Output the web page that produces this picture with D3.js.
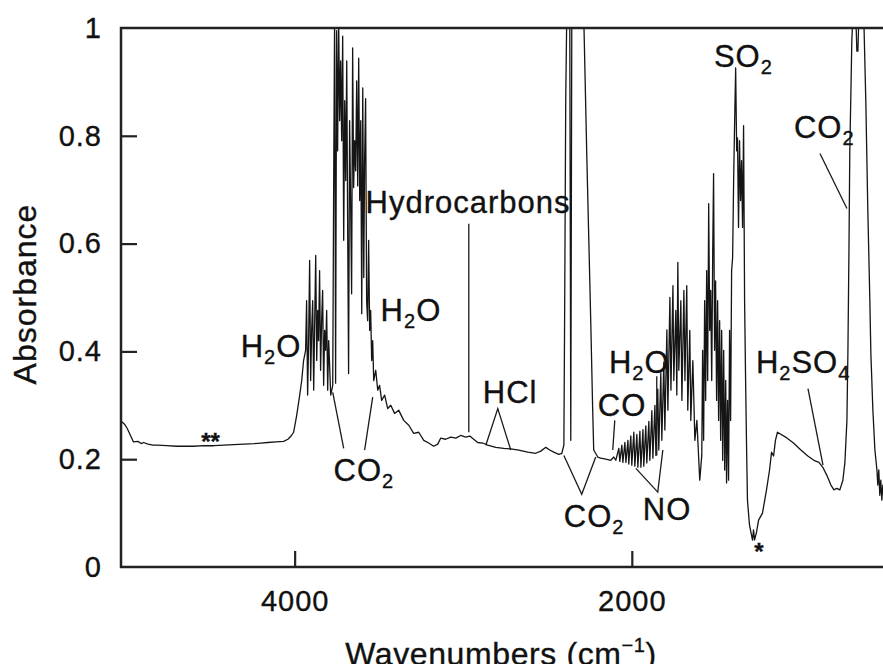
<!DOCTYPE html>
<html>
<head>
<meta charset="utf-8">
<script src="https://cdn.jsdelivr.net/npm/d3@7"></script>
<style>
  body { margin: 0; background: #fff; }
  text { font-family: "Liberation Sans", Arial, Helvetica, sans-serif; fill: #111; stroke: #111; stroke-width: 0.35px; }
</style>
</head>
<body>
<svg id="chart" width="883" height="664"></svg>
<script>
// spectrum (wavenumber in cm-1, absorbance)
var wavenumber = [
  5027, 5009, 4993, 4975, 4956, 4930, 4910, 4896, 4870, 4840, 4813, 4760, 4700, 4659, 4600, 4540,
  4480, 4420, 4362, 4300, 4240, 4200, 4160, 4110, 4065, 4040, 4024, 4006,
  3988, 3970, 3958, 3947, 3935, 3929, 3923, 3917, 3911, 3905, 3899, 3893, 3887, 3881, 3875, 3869,
  3863, 3858, 3852, 3846, 3840, 3834, 3828, 3822, 3816, 3810, 3804, 3798, 3786, 3774, 3769, 3763,
  3757, 3751, 3745, 3739, 3733, 3727, 3721, 3715, 3709, 3703, 3697, 3691, 3685, 3680, 3674, 3668,
  3662, 3656, 3650, 3644, 3638, 3632, 3626, 3620, 3614, 3608, 3602, 3596, 3590, 3585, 3579, 3573,
  3567, 3561, 3555, 3549, 3543, 3537, 3531, 3519, 3507, 3496, 3484, 3466, 3448, 3430, 3407, 3383,
  3353, 3323, 3294, 3264, 3234, 3205, 3175, 3151, 3134, 3104, 3074, 3044, 3015, 2985, 2961, 2938,
  2914, 2884, 2855, 2807, 2760, 2718, 2671, 2617, 2570, 2540, 2510, 2487, 2463, 2433, 2415,
  2403, 2398, 2392, 2386, 2368, 2362, 2356, 2285, 2267, 2255, 2243, 2232, 2226, 2202,
  2184, 2154, 2125, 2107, 2095, 2077, 2071, 2059, 2053, 2041, 2035, 2023, 2018, 2006, 2000, 1988,
  1982, 1970, 1964, 1952, 1946, 1934, 1929, 1917, 1911, 1899, 1893, 1881, 1875, 1863, 1857, 1846,
  1840, 1828, 1822, 1810, 1804, 1792, 1786, 1774, 1768, 1756, 1751, 1739, 1733, 1727, 1721, 1709,
  1703, 1691, 1685, 1674, 1668, 1656, 1650, 1638, 1626, 1614, 1597,
  1585, 1580, 1574, 1568, 1562, 1556, 1550, 1544, 1538, 1532, 1526, 1520, 1515, 1509, 1503, 1497,
  1491, 1485, 1479, 1473, 1467, 1461, 1455, 1449, 1443, 1438, 1432, 1426, 1420, 1414, 1408, 1402,
  1396, 1390, 1384, 1378, 1373, 1367, 1361, 1355, 1349, 1343, 1337, 1331, 1325, 1319, 1314, 1302,
  1290, 1284, 1278, 1272, 1260, 1248, 1225, 1201, 1183, 1171, 1159, 1148, 1136,
  1088, 1041, 997, 956, 920, 890, 867, 843, 819, 801, 784, 766, 748, 736, 724, 718, 712, 707, 701,
  695, 689, 671, 665, 659, 653, 624, 612, 600, 588, 582, 570, 558, 546, 541, 535, 529, 523, 517, 511, 505
];
var absorbance = [
  0.270, 0.265, 0.257, 0.245, 0.232, 0.233, 0.229, 0.231, 0.228, 0.226, 0.226, 0.225, 0.224, 0.224, 0.224, 0.225,
  0.225, 0.226, 0.227, 0.228, 0.229, 0.230, 0.231, 0.232, 0.233, 0.237, 0.242, 0.250,
  0.281, 0.319, 0.346, 0.383, 0.402, 0.494, 0.319, 0.420, 0.569, 0.346, 0.439, 0.494, 0.328, 0.457, 0.578, 0.383,
  0.476, 0.420, 0.550, 0.365, 0.457, 0.513, 0.337, 0.439, 0.402, 0.476, 0.328, 0.420, 0.319, 0.337, 0.680, 1.020,
  0.341, 0.995, 0.772, 1.020, 0.828, 0.939, 0.791, 0.985, 0.606, 0.865, 0.717, 0.939, 0.606, 0.359, 0.828, 0.680,
  0.507, 0.963, 0.704, 0.791, 0.735, 0.902, 0.707, 0.944, 0.680, 0.828, 0.470, 0.889, 0.537, 0.754, 0.869, 0.494,
  0.457, 0.606, 0.439, 0.476, 0.383, 0.420, 0.346, 0.365, 0.328, 0.337, 0.309, 0.319, 0.294, 0.300, 0.285, 0.291,
  0.272, 0.263, 0.248, 0.250, 0.235, 0.230, 0.224, 0.228, 0.239, 0.237, 0.241, 0.239, 0.244, 0.241, 0.243, 0.237,
  0.231, 0.230, 0.226, 0.222, 0.220, 0.219, 0.217, 0.213, 0.211, 0.215, 0.222, 0.217, 0.213, 0.209, 0.211,
  0.226, 0.494, 0.865, 1.020, 1.020, 0.235, 1.020, 1.020, 0.763, 0.606, 0.448, 0.291, 0.217, 0.204,
  0.202, 0.200, 0.198, 0.204, 0.198, 0.220, 0.196, 0.226, 0.194, 0.231, 0.194, 0.235, 0.191, 0.243, 0.189, 0.250,
  0.187, 0.246, 0.185, 0.252, 0.185, 0.255, 0.187, 0.262, 0.193, 0.270, 0.198, 0.290, 0.202, 0.300, 0.207, 0.330,
  0.217, 0.360, 0.235, 0.380, 0.254, 0.440, 0.291, 0.500, 0.328, 0.522, 0.346, 0.476, 0.319, 0.565, 0.365, 0.494,
  0.309, 0.513, 0.346, 0.522, 0.291, 0.439, 0.272, 0.383, 0.235, 0.272, 0.161,
  0.207, 0.402, 0.235, 0.494, 0.309, 0.550, 0.346, 0.674, 0.439, 0.513, 0.346, 0.587, 0.730, 0.402, 0.531, 0.309,
  0.494, 0.272, 0.457, 0.235, 0.439, 0.198, 0.402, 0.180, 0.346, 0.156, 0.309, 0.161, 0.439, 0.272, 0.550, 0.574,
  0.717, 0.828, 0.926, 0.772, 0.796, 0.630, 0.791, 0.680, 0.754, 0.630, 0.819, 0.494, 0.346, 0.217, 0.124, 0.078,
  0.059, 0.050, 0.069, 0.050, 0.065, 0.087, 0.100, 0.143, 0.180, 0.213, 0.206, 0.235, 0.250,
  0.241, 0.230, 0.217, 0.206, 0.198, 0.194, 0.185, 0.170, 0.152, 0.143, 0.146, 0.143, 0.161, 0.194, 0.272, 0.402, 0.587, 0.772, 0.870,
  0.976, 1.020, 1.020, 0.957, 0.957, 1.020, 1.020, 0.865, 0.661, 0.494, 0.396, 0.291, 0.217, 0.180, 0.152, 0.180, 0.133, 0.161, 0.124, 0.152, 0.133
];

var xTicks = [4000, 2000];
var yTicks = [0, 0.2, 0.4, 0.6, 0.8, 1];

// band labels: text parts [text, sub?], anchor (wavenumber, absorbance) of text start / baseline
var labels = [
  {parts: [["H"], ["2", "sub"], ["O"]], wn: 4320, a: 0.389},
  {parts: [["CO"], ["2", "sub"]], wn: 3769, a: 0.159},
  {parts: [["H"], ["2", "sub"], ["O"]], wn: 3490, a: 0.457},
  {parts: [["Hydrocarbons"]], wn: 3579, a: 0.657},
  {parts: [["HCl"]], wn: 2884, a: 0.304},
  {parts: [["CO"], ["2", "sub"]], wn: 2403, a: 0.074},
  {parts: [["CO"]], wn: 2202, a: 0.281},
  {parts: [["H"], ["2", "sub"], ["O"]], wn: 2136, a: 0.359},
  {parts: [["NO"]], wn: 1935, a: 0.087},
  {parts: [["SO"], ["2", "sub"]], wn: 1513, a: 0.928},
  {parts: [["H"], ["2", "sub"], ["SO"], ["4", "sub"]], wn: 1264, a: 0.359},
  {parts: [["CO"], ["2", "sub"]], wn: 1038, a: 0.796}
];

// leader lines from labels to bands
var pointers = [
  [[3709, 0.220], [3774, 0.324]],
  [[3585, 0.217], [3537, 0.315]],
  [[2967, 0.637], [2967, 0.250]],
  [[2866, 0.226], [2795, 0.294], [2718, 0.217]],
  [[2403, 0.207], [2297, 0.135], [2214, 0.204]],
  [[2101, 0.272], [2113, 0.217]],
  [[1852, 0.354], [1852, 0.207]],
  [[1976, 0.183], [1846, 0.139], [1816, 0.217]],
  [[955, 0.331], [866, 0.189]],
  [[884, 0.767], [724, 0.665]]
];

var marks = [
  {text: "**", wn: 4499, a: 0.217},
  {text: "*", wn: 1246, a: 0.013}
];

var svg = d3.select("#chart");
var plotL = 121, plotR = 883, plotT = 28, plotB = 567;

var x = d3.scaleLinear().domain([5030, 510]).range([plotL, plotR]);
var y = d3.scaleLinear().domain([0, 1]).range([plotB, plotT]);

svg.append("clipPath").attr("id", "plot")
  .append("rect").attr("x", plotL).attr("y", plotT).attr("width", plotR - plotL + 10).attr("height", plotB - plotT);

// spectrum
var spectrum = wavenumber.map(function(w, i) { return [w, absorbance[i]]; });
var line = d3.line()
  .x(function(d) { return x(d[0]); })
  .y(function(d) { return y(d[1]); });

svg.append("path")
  .datum(spectrum)
  .attr("clip-path", "url(#plot)")
  .attr("d", line)
  .attr("fill", "none")
  .attr("stroke", "#151515")
  .attr("stroke-width", 1.3)
  .attr("stroke-linejoin", "round");

// frame
svg.append("path")
  .attr("d", "M" + (plotR + 20) + "," + plotT + "H" + plotL + "V" + plotB + "H" + (plotR + 20))
  .attr("fill", "none")
  .attr("stroke", "#222")
  .attr("stroke-width", 2.5);

// axes
var yAxis = svg.append("g")
  .attr("transform", "translate(" + plotL + ",0)")
  .call(d3.axisLeft(y).tickValues(yTicks).tickFormat(function(d) { return String(d); })
    .tickSizeInner(-16).tickSizeOuter(0).tickPadding(19));
var xAxis = svg.append("g")
  .attr("transform", "translate(0," + plotB + ")")
  .call(d3.axisBottom(x).tickValues(xTicks).tickFormat(function(d) { return String(d); })
    .tickSizeInner(-16).tickSizeOuter(0).tickPadding(23));

[xAxis, yAxis].forEach(function(g) {
  g.select(".domain").remove();
  g.selectAll(".tick line").attr("stroke", "#222").attr("stroke-width", 2.2);
  g.selectAll(".tick text").attr("font-size", 29).attr("fill", "#111")
    .attr("letter-spacing", 1)
    .style("font-family", "'Liberation Sans', Arial, sans-serif");
});
yAxis.selectAll(".tick")
  .filter(function(d) { return d === 0 || d === 1; })
  .select("line").remove();

// axis titles
svg.append("text")
  .attr("transform", "translate(36,294) rotate(-90)")
  .attr("text-anchor", "middle")
  .attr("font-size", 32)
  .attr("letter-spacing", 1)
  .text("Absorbance");

var xt = svg.append("text")
  .attr("x", 501).attr("y", 665)
  .attr("text-anchor", "middle")
  .attr("font-size", 32)
  .attr("letter-spacing", 0.6);
xt.append("tspan").text("Wavenumbers (cm");
xt.append("tspan").attr("font-size", 20).attr("dy", -13).text("\u22121");
xt.append("tspan").attr("dy", 13).text(")");

// labels
labels.forEach(function(l) {
  var t = svg.append("text")
    .attr("x", x(l.wn)).attr("y", y(l.a))
    .attr("font-size", 31)
    .attr("letter-spacing", 1);
  var shift = 0;
  l.parts.forEach(function(p) {
    var s = t.append("tspan").text(p[0]);
    if (p[1] === "sub") {
      s.attr("font-size", 20).attr("dy", 7 - shift);
      shift = 7;
    } else {
      s.attr("dy", -shift);
      shift = 0;
    }
  });
});

svg.append("g").selectAll("path")
  .data(pointers)
  .enter().append("path")
  .attr("d", d3.line().x(function(d) { return x(d[0]); }).y(function(d) { return y(d[1]); }))
  .attr("fill", "none")
  .attr("stroke", "#1a1a1a")
  .attr("stroke-width", 1.3);

svg.append("g").selectAll("text")
  .data(marks)
  .enter().append("text")
  .attr("x", function(d) { return x(d.wn); })
  .attr("y", function(d) { return y(d.a); })
  .attr("text-anchor", "middle")
  .attr("font-size", 24)
  .attr("font-weight", "bold")
  .text(function(d) { return d.text; });
</script>
</body>
</html>
